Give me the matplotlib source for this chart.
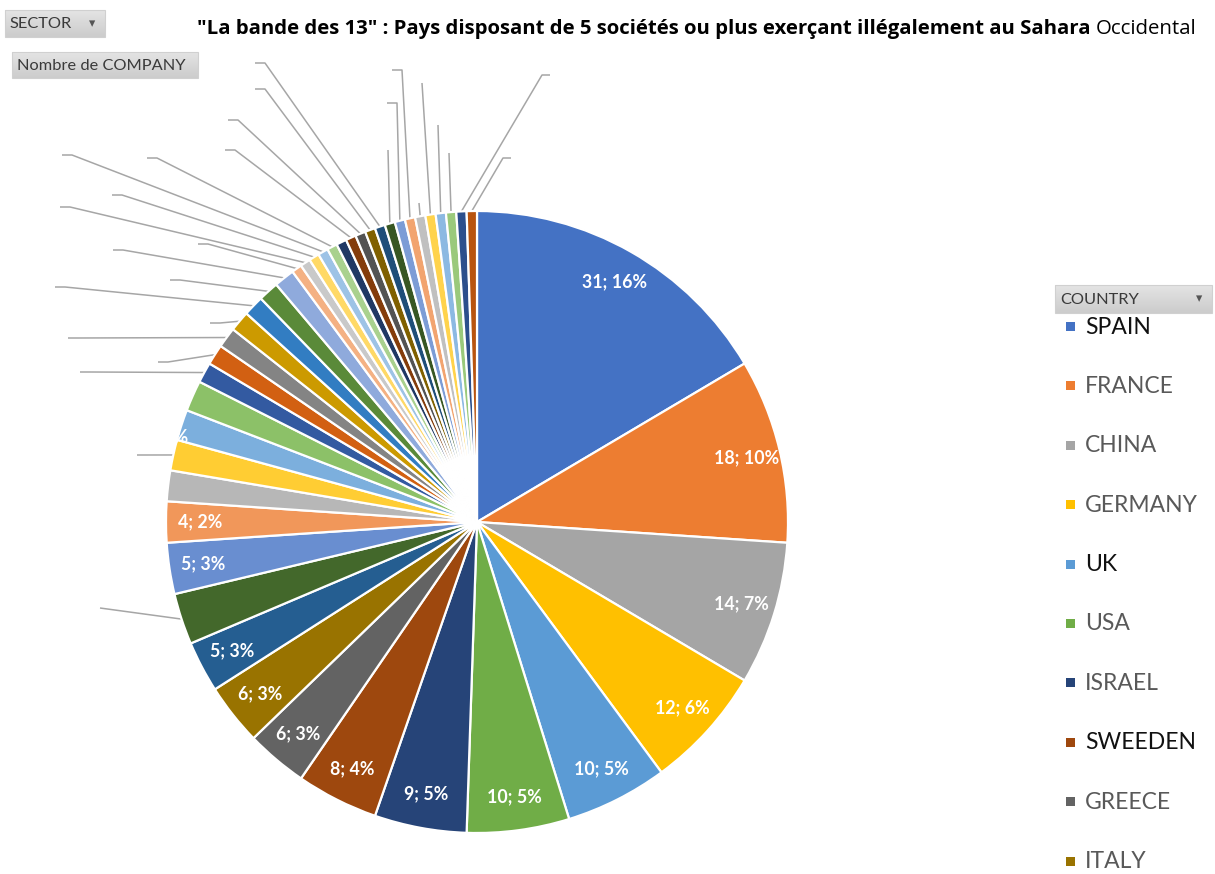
import colorsys
import numpy as np
import matplotlib
matplotlib.use("Agg")
import matplotlib.pyplot as plt
from matplotlib.patches import Rectangle

# ---------------- data ----------------
countries = ["SPAIN", "FRANCE", "CHINA", "GERMANY", "UK", "USA",
             "ISRAEL", "SWEEDEN", "GREECE", "ITALY"]
values = [31, 18, 14, 12, 10, 10, 9, 8, 6, 6, 5, 5, 5, 4,
          3, 3, 3, 3,
          2, 2, 2, 2, 2, 2, 2,
          1, 1, 1, 1, 1, 1, 1, 1, 1, 1, 1, 1, 1, 1, 1, 1, 1, 1, 1]
labelled = [0, 1, 2, 3, 4, 5, 6, 7, 8, 9, 10, 12, 13]
title_bold = '"La bande des 13" : Pays disposant de 5 sociétés ou plus exerçant illégalement au Sahara'
title_regular = "Occidental"

# leader lines: (slice index, bend x, bend y, tick dx) in pixel layout
leaders = [
    (11, 100, 608, 0),
    (15, 147, 455, -10),
    (18, 90, 372, -10), (19, 168, 362, -10), (20, 78, 338, -10),
    (21, 220, 323, -10), (22, 65, 287, -10), (23, 180, 280, -10),
    (24, 123, 250, -10), (25, 208, 244, -10), (26, 70, 207, -10),
    (27, 122, 195, -10), (28, 72, 155, -10), (29, 157, 158, -10),
    (31, 235, 150, -10), (32, 238, 120, -10), (33, 265, 89, -10),
    (34, 265, 63, -10),
    (35, 388, 150, 0), (36, 397, 103, -10), (37, 402, 70, -10),
    (38, 419, 203, 0), (39, 422, 83, 0), (40, 438, 125, 0),
    (41, 449, 153, 0), (42, 542, 75, 8), (43, 503, 158, 8),
]

# ---------------- colours (Excel office palette cycle) ----------------
accents = ["#4472C4", "#ED7D31", "#A5A5A5", "#FFC000", "#5B9BD5", "#70AD47"]
mods = [(1.0, 0.0), (0.6, 0.0), (0.8, 0.2), (0.8, 0.0), (0.6, 0.4),
        (0.5, 0.0), (0.7, 0.3), (0.7, 0.0)]


def excel_color(i):
    base = matplotlib.colors.to_rgb(accents[i % 6])
    lm, lo = mods[i // 6]
    h, l, s = colorsys.rgb_to_hls(*base)
    l = min(1.0, l * lm + lo)
    return colorsys.hls_to_rgb(h, l, s)


colors = [excel_color(i) for i in range(len(values))]
total = sum(values)

# ---------------- figure ----------------
W, H = 1215, 874
fig = plt.figure(figsize=(W / 100, H / 100), dpi=100)
ax = fig.add_axes([0, 0, 1, 1])

FONT = "Lato"
cx, cy, R = 477, 522, 311

wedges, _ = ax.pie(values, colors=colors, startangle=270, counterclock=True,
                   center=(cx, cy), radius=R, frame=True,
                   wedgeprops=dict(edgecolor="white", linewidth=1.6))
ax.set_xlim(0, W)
ax.set_ylim(H, 0)
ax.axis("off")


def mid(i):
    w = wedges[i]
    return np.deg2rad((w.theta1 + w.theta2) / 2)


# data labels
for i in labelled:
    a = mid(i)
    r = 0.89 * R
    v = values[i]
    ax.text(cx + r * np.cos(a), cy + r * np.sin(a),
            f"{v}; {round(100 * v / total)}%", color="white",
            fontsize=12.8, fontweight="bold", family=FONT,
            ha="center", va="center")
# partially visible outside label (white on white)
ax.text(188, 437, f"{values[16]}; {round(100 * values[16] / total)}%",
        color="white", fontsize=12.8, fontweight="bold", family=FONT,
        ha="right", va="center", zorder=5)

# leader lines
for i, bx, by, tk in leaders:
    a = mid(i)
    sx, sy = cx + R * np.cos(a), cy + R * np.sin(a)
    xs = [sx, bx] + ([bx + tk] if tk else [])
    ys = [sy, by] + ([by] if tk else [])
    ax.plot(xs, ys, color="#A6A6A6", lw=1.1, zorder=0.5,
            solid_capstyle="butt")

# title (fitted to the reference width 197..1205 px)
TF = "Open Sans"
fs0 = 14
t1 = ax.text(197, 29, title_bold, fontsize=fs0, fontweight="bold",
             family=TF, color="black", ha="left", va="center")
t2 = ax.text(0, 29, title_regular, fontsize=fs0, family=TF,
             color="black", ha="left", va="center")
fig.canvas.draw()
wtot = t1.get_window_extent().width + 5 + t2.get_window_extent().width
fs = fs0 * 1006 / wtot
t1.set_fontsize(fs)
t2.set_fontsize(fs)
fig.canvas.draw()
bb = t1.get_window_extent()
t2.set_x(bb.x1 + 5)


# pivot-style buttons
def button(x0, y0, x1, y1, text, arrow):
    grad = np.linspace(0, 1, 50).reshape(-1, 1)
    ax.imshow(grad, extent=(x0, x1, y1, y0),
              cmap=matplotlib.colors.LinearSegmentedColormap.from_list(
                  "g", ["#e4e4e4", "#cccccc"]), aspect="auto", zorder=3)
    ax.add_patch(Rectangle((x0, y0), x1 - x0, y1 - y0, fill=False,
                           edgecolor="#d0d0d0", lw=0.8, zorder=3))
    ax.text(x0 + 5, (y0 + y1) / 2 + 1, text, fontsize=11.8, family=FONT,
            color="#3a3a3a", ha="left", va="center", zorder=4)
    if arrow:
        ax.text(x1 - 13, (y0 + y1) / 2, "▾", fontsize=9,
                family="DejaVu Sans", color="#555555", ha="center",
                va="center", zorder=4)


button(5, 10, 105, 37, "SECTOR", True)
button(12, 52, 198, 78, "Nombre de COMPANY", False)
button(1055, 285, 1212, 313, "COUNTRY", True)
ax.set_xlim(0, W)
ax.set_ylim(H, 0)

# legend
dark = {"SPAIN", "UK", "SWEEDEN"}
for k, name in enumerate(countries):
    y = 327 + k * 59.4
    ax.add_patch(Rectangle((1066, y - 5), 9, 9, facecolor=colors[k],
                           edgecolor="none", zorder=4))
    ax.text(1085, y, name, fontsize=16.5, family=FONT,
            color="#111111" if name in dark else "#595959",
            ha="left", va="center", zorder=4)

fig.savefig("out.png", dpi=100)
